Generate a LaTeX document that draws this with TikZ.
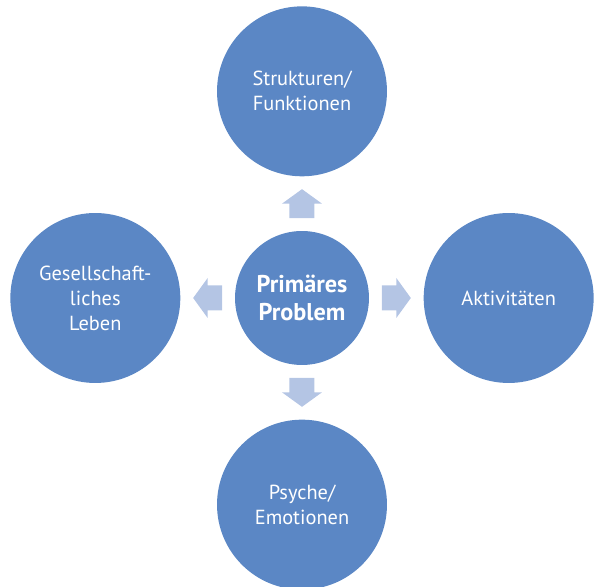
\documentclass[tikz,border=0pt]{standalone}
\usepackage{fontspec}
\setmainfont{PT Sans}
\usetikzlibrary{positioning,calc}

\definecolor{circblue}{RGB}{91,135,197}
\definecolor{arrowblue}{RGB}{180,197,228}

\begin{document}
\begin{tikzpicture}[
    x=0.02cm, y=0.02cm,
    node distance=1.08cm,
    outercirc/.style={circle, fill=circblue, minimum size=3.4cm, inner sep=0pt, text=white, align=center, font=\fontsize{11.6}{14.2}\selectfont},
    hubcirc/.style={circle, fill=circblue, minimum size=2.68cm, inner sep=0pt, text=white, align=center, font=\fontsize{13.8}{16}\selectfont\bfseries},
    blockarrow/.pic={\fill[arrowblue] (-14.5,-12.5) -- (0,-12.5) -- (0,-20) -- (14.5,0) -- (0,20) -- (0,12.5) -- (-14.5,12.5) -- cycle;}
]
    % Fix the page size
    \useasboundingbox (-302,-289) rectangle (294,298);

    % Central problem
    \node[hubcirc] (hub) at (0,0) {Primäres\\Problem};

    % Surrounding areas
    \node[outercirc, above=of hub] (struct) {Strukturen/\\Funktionen};
    \node[outercirc, right=of hub] (activ) {Aktivitäten};
    \node[outercirc, below=of hub] (psyche) {Psyche/\\Emotionen};
    \node[outercirc, left=of hub] (social) {Gesellschaft-\\liches\\Leben};

    % Block arrows between hub and areas
    \pic[rotate=90] at ($(hub.north)!0.5!(struct.south)$) {blockarrow};
    \pic at ($(hub.east)!0.5!(activ.west)$) {blockarrow};
    \pic[rotate=-90] at ($(hub.south)!0.5!(psyche.north)$) {blockarrow};
    \pic[rotate=180] at ($(hub.west)!0.5!(social.east)$) {blockarrow};

\end{tikzpicture}
\end{document}
